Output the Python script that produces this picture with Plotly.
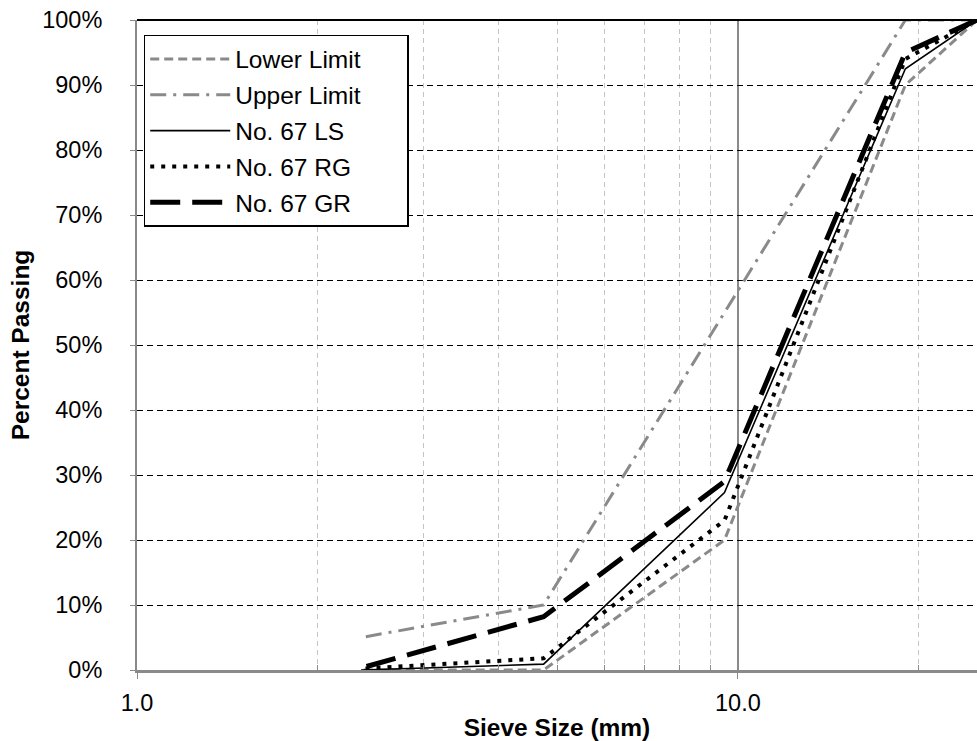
import plotly.graph_objects as go

# Sieve sizes (mm)
sieve = [25, 19, 9.5, 4.75, 2.36]

# Percent passing (fraction)
lower_limit = [1.00, 0.90, 0.20, 0.00, 0.00]
upper_limit = [1.00, 1.00, 0.55, 0.10, 0.05]
ls_67 = [1.00, 0.925, 0.273, 0.009, 0.000]
rg_67 = [1.00, 0.94, 0.23, 0.018, 0.002]
gr_67 = [1.00, 0.95, 0.29, 0.082, 0.003]

series_names = ["Lower Limit", "Upper Limit", "No. 67 LS", "No. 67 RG", "No. 67 GR"]

x_tickvals = [1, 10]
x_ticktext = ["1.0", "10.0"]
x_minor = [2, 3, 4, 5, 6, 7, 8, 9, 20]

FONT = "Arial, Liberation Sans, sans-serif"
GRAY = "#8a8a8a"
PAD = "\u00a0" * 6  # right padding inside the legend box

series = [
    (series_names[0], lower_limit, dict(color=GRAY, width=3, dash="9px,5px")),
    (series_names[1], upper_limit, dict(color=GRAY, width=3, dash="16px,7px,3px,7px")),
    (series_names[2], ls_67, dict(color="black", width=1.6, dash="solid")),
    (series_names[3], rg_67, dict(color="black", width=4, dash="4px,7px")),
    (series_names[4], gr_67, dict(color="black", width=5, dash="30px,12px")),
]

fig = go.Figure()
for i, (name, vals, line) in enumerate(series):
    fig.add_trace(go.Scatter(
        x=sieve, y=vals, mode="lines", name=name + PAD, line=line,
        legendgroup=f"g{i}", hoverinfo="skip",
    ))

fig.update_layout(
    width=977, height=741,
    margin=dict(l=137, r=0, t=20, b=65),
    paper_bgcolor="white", plot_bgcolor="white",
    font=dict(family=FONT, size=23, color="black"),
    legend=dict(
        x=0.008, y=0.977, xanchor="left", yanchor="top",
        bordercolor="black", borderwidth=1.5, bgcolor="white",
        font=dict(family=FONT, size=24.5, color="black"),
        tracegroupgap=1, itemwidth=80,
    ),
    shapes=[dict(type="line", xref="paper", yref="paper", x0=0, x1=1, y0=1, y1=1,
                 line=dict(color="black", width=2))],
)

fig.update_xaxes(
    type="log", range=[0, 1.39794],
    tickmode="array", tickvals=x_tickvals, ticktext=x_ticktext,
    ticks="outside", ticklen=6, tickcolor=GRAY, tickwidth=1,
    showgrid=True, gridcolor=GRAY, gridwidth=2,
    showline=True, linecolor=GRAY, linewidth=3,
    zeroline=False,
    ticklabelstandoff=4,
    tickfont=dict(family=FONT, size=23.5),
    minor=dict(tickmode="array", tickvals=x_minor, ticks="inside", ticklen=5,
               tickcolor=GRAY, showgrid=True, gridcolor="#c4c4c4", griddash="5px,4px",
               gridwidth=1),
    title=dict(text="<b>Sieve Size (mm)</b>", font=dict(family=FONT, size=24.5), standoff=8),
)

fig.update_yaxes(
    range=[0, 1], tickmode="linear", tick0=0, dtick=0.1, tickformat=".0%",
    ticks="outside", ticklen=5, tickcolor=GRAY,
    showgrid=True, gridcolor="black", gridwidth=1, griddash="6px,4px",
    showline=True, linecolor=GRAY, linewidth=2,
    zeroline=False,
    ticklabelstandoff=23,
    tickfont=dict(family=FONT, size=23.5),
    title=dict(text="<b>Percent Passing</b>", font=dict(family=FONT, size=24.5), standoff=6),
)

fig.write_html("out.html")
